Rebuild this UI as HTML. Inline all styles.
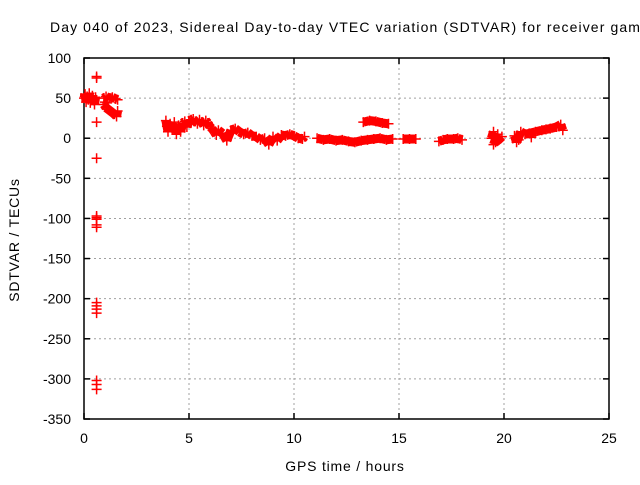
<!DOCTYPE html>
<html><head><meta charset="utf-8"><style>
body{margin:0;background:#fff}
svg{font-family:"Liberation Sans",sans-serif;font-size:14px}
</style></head><body>
<svg id="chart" width="640" height="480">
<rect width="640" height="480" fill="#fff"/>
<text x="50" y="32" letter-spacing="1.1">Day 040 of 2023, Sidereal Day-to-day VTEC variation (SDTVAR) for receiver gamb</text>
<g id="grid"></g><g id="axes"></g><g id="marks"></g>
<text x="345" y="471" text-anchor="middle" letter-spacing="0.8">GPS time / hours</text>
<text transform="translate(19,240) rotate(-90)" text-anchor="middle" letter-spacing="0.8">SDTVAR / TECUs</text>
</svg>
<script>
const xTicks=[0,5,10,15,20,25];
const yTicks=[100,50,0,-50,-100,-150,-200,-250,-300,-350];
const times=[0.0,0.05,0.1,0.15,0.2,0.25,0.3,0.35,0.4,0.45,0.5,0.55,
0.6,0.6,0.6,0.6,0.6,0.6,0.6,0.6,0.6,0.6,0.6,0.6,0.6,0.6,0.6,0.6,
0.95,1.05,1.2,1.35,1.5,1.6,0.95,1.05,1.15,1.25,1.35,1.45,1.55,1.6,1.0,1.1,
3.9,3.95,4.0,4.1,4.2,4.3,4.4,4.5,4.6,4.7,4.8,4.9,
5.0,5.1,5.2,5.3,5.4,5.5,5.6,5.7,5.8,5.9,6.0,6.1,6.2,6.3,6.4,
6.6,6.8,7.0,7.2,7.4,7.6,7.8,8.0,8.2,8.4,8.6,8.8,9.0,9.2,9.4,9.6,9.8,10.0,10.2,10.4,10.5,
11.1,11.4,11.7,12.0,12.3,12.6,12.9,13.2,13.5,13.8,14.1,14.4,14.7,13.3,13.6,13.9,14.2,14.5,
15.2,15.5,15.8,16.9,17.1,17.3,17.6,17.8,18.0,
19.4,19.5,19.5,19.7,19.7,19.9,19.6,
20.5,20.6,20.8,21.0,21.2,21.5,21.8,22.0,22.2,22.5,22.7,22.8,20.7,21.3];
const values=[50,55,45,52,48,56,44,50,53,47,42,51,
77,75,20,-25,-97,-99,-101,-108,-111,-205,-209,-213,-218,-302,-307,-313,
50,52,50,51,49,48,42,38,36,34,32,30,27,34,45,44,
22,15,8,18,12,20,5,16,8,19,21,14,
22,23,24,21,18,23,20,16,22,19,14,12,8,4,10,
6,-3,10,12,8,5,7,3,2,-2,0,-8,2,-3,4,3,5,3,0,-1,2,
0,-2,-1,-3,-2,-4,-5,-3,-2,-1,0,-2,-1,20,22,21,19,18,
-1,-1,-1,-4,-2,-1,-1,0,-2,
0,8,-8,5,-3,2,-5,
3,-5,8,5,6,8,10,11,12,14,17,10,-2,1];
const NS='http://www.w3.org/2000/svg';
const L=84,R=609,T=58,B=419;
const xs=t=>L+(t-0)/25*(R-L);
const ys=v=>T+(100-v)/450*(B-T);
function mk(tag,attrs,parent){const e=document.createElementNS(NS,tag);for(const k in attrs)e.setAttribute(k,attrs[k]);parent.appendChild(e);return e;}
const grid=document.getElementById('grid'),axes=document.getElementById('axes'),marks=document.getElementById('marks');
xTicks.forEach(t=>{const x=xs(t);
 if(t>0&&t<25){const g=mk('line',{x1:x,x2:x,y1:T,y2:B,stroke:'#a0a0a0','stroke-dasharray':'2,3'},grid);
 
 }
 mk('line',{x1:x,x2:x,y1:B,y2:B-6,stroke:'#000','stroke-width':1.5},axes);mk('line',{x1:x,x2:x,y1:T,y2:T+6,stroke:'#000','stroke-width':1.5},axes);
 const lb=mk('text',{x:x,y:B+24,'text-anchor':'middle'},axes);lb.textContent=t;
 
 });
yTicks.forEach(v=>{const y=ys(v);
 if(v<100&&v>-350){const g=mk('line',{x1:L,x2:R,y1:y,y2:y,stroke:'#a0a0a0','stroke-dasharray':'2,3'},grid);
 
 }
 mk('line',{x1:L,x2:L+6,y1:y,y2:y,stroke:'#000','stroke-width':1.5},axes);mk('line',{x1:R,x2:R-6,y1:y,y2:y,stroke:'#000','stroke-width':1.5},axes);
 const lb=mk('text',{x:L-13,y:y+5,'text-anchor':'end'},axes);lb.textContent=v;
 
 });
const fr=mk('rect',{x:L,y:T,width:R-L,height:B-T,fill:'none',stroke:'#000','stroke-width':1.5},axes);


times.forEach((t,i)=>{const x=xs(t),y=ys(values[i]);
 const p=mk('path',{d:`M${x-5},${y}h10M${x},${y-5}v10`,stroke:'#ff0000','stroke-width':1.5,fill:'none'},marks);
 
 
 const j=values[i+1];
 if(i+1<times.length&&times[i+1]!==t&&Math.abs(times[i+1]-t)<0.35&&Math.abs(j-values[i])<15){
  const s=mk('line',{x1:x,y1:y,x2:xs(times[i+1]),y2:ys(j),stroke:'#ff0000','stroke-width':9},marks);
  
  }
});
</script>
</body></html>
